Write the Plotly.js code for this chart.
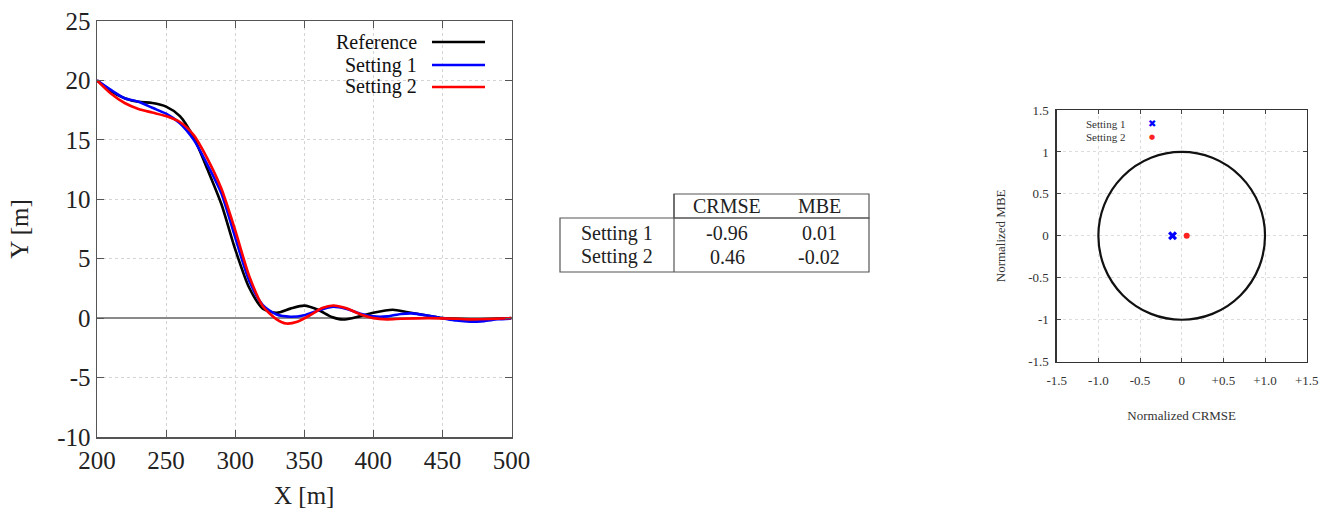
<!DOCTYPE html>
<html>
<head>
<meta charset="utf-8">
<script src="https://cdn.plot.ly/plotly-3.0.1.min.js"></script>
<style>html,body{margin:0;padding:0;background:#fff;}#chart{width:1330px;height:521px;}</style>
</head>
<body>
<div id="chart"></div>
<script>
// ---- Left chart: trajectories ----
const refX = [200,210,220,230,240,250,260,270,280,290,300,310,320,330,340,350,360,370,378,390,400,414,425,440,450,470,500];
const refY = [20.0,19.1,18.5,18.2,18.1,17.8,17.0,15.2,12.5,9.6,5.8,2.6,0.8,0.45,0.8,1.05,0.7,0.1,-0.12,0.15,0.45,0.7,0.5,0.2,0.0,-0.1,0.0];

const s1X = [200,210,220,230,240,250,260,270,280,290,300,310,320,330,340,350,360,370,380,390,400,410,420,428,440,450,460,470,480,490,500];
const s1Y = [20.0,19.2,18.5,18.2,17.7,17.2,16.4,15.0,12.9,10.5,6.8,3.2,1.1,0.3,0.12,0.25,0.65,0.95,0.8,0.4,0.15,0.15,0.35,0.4,0.2,0.0,-0.2,-0.3,-0.25,-0.1,-0.03];

const s2X = [200,210,220,230,240,250,260,270,280,290,300,310,320,330,337,345,355,363,371,380,390,400,410,420,440,460,470,500];
const s2Y = [20.0,18.9,18.1,17.6,17.3,17.0,16.5,15.4,13.4,10.9,7.4,3.6,1.0,-0.1,-0.45,-0.3,0.3,0.85,1.07,0.85,0.35,0.0,-0.1,-0.05,0.0,-0.05,-0.1,0.0];

const seriesNames = ['Reference','Setting 1','Setting 2'];
const seriesColors = ['#000000','#0000ff','#ff0000'];
const yTickVals = [-10,-5,0,5,10,15,20,25];
const yTickText = ['-10','-5','0','5','10','15','20','25'];

// ---- Middle table ----
const tableRows = ['Setting 1','Setting 2'];
const tableCols = ['CRMSE','MBE'];
const crmseVals = ['-0.96','0.46'];
const mbeVals = ['0.01','-0.02'];

// ---- Right chart: normalized errors ----
const normCRMSE = [-0.11, 0.06];
const normMBE = [0.0, 0.0];
const targetXTickVals = [-1.5,-1.0,-0.5,0,0.5,1.0,1.5];
const targetXTickText = ['-1.5','-1.0','-0.5','0','+0.5','+1.0','+1.5'];
const targetYTickVals = [-1.5,-1,-0.5,0,0.5,1,1.5];
const targetYTickText = ['-1.5','-1','-0.5','0','0.5','1','1.5'];

const W = 1330, H = 521;
const px = x => x / W;
const py = y => 1 - y / H;
const serif = 'Liberation Serif, DejaVu Serif, serif';

const traces = [
  {x: refX, y: refY, mode:'lines', line:{color:seriesColors[0], width:2.6, shape:'spline', smoothing:0.7}, xaxis:'x', yaxis:'y', showlegend:false},
  {x: s1X, y: s1Y, mode:'lines', line:{color:seriesColors[1], width:2.6, shape:'spline', smoothing:0.7}, xaxis:'x', yaxis:'y', showlegend:false},
  {x: s2X, y: s2Y, mode:'lines', line:{color:seriesColors[2], width:2.6, shape:'spline', smoothing:0.7}, xaxis:'x', yaxis:'y', showlegend:false},
  {x: [normCRMSE[0]], y: [normMBE[0]], mode:'markers', marker:{symbol:'x', size:8, color:'#0000ff'}, xaxis:'x2', yaxis:'y2', showlegend:false},
  {x: [normCRMSE[1]], y: [normMBE[1]], mode:'markers', marker:{symbol:'circle', size:6, color:'#ff2020'}, xaxis:'x2', yaxis:'y2', showlegend:false}
];

const shapes = [];
const annotations = [];

// left legend (gnuplot style: text then line sample)
const legRowsY = [42, 65, 87];
seriesNames.forEach((n, i) => {
  annotations.push({xref:'paper', yref:'paper', x:px(419), y:py(legRowsY[i]), xanchor:'right', yanchor:'middle',
    text:n, showarrow:false, font:{family:serif, size:20, color:'#111'}});
  shapes.push({type:'line', xref:'paper', yref:'paper', x0:px(432), x1:px(485), y0:py(legRowsY[i]), y1:py(legRowsY[i]),
    line:{color:seriesColors[i], width:2.6}});
});

// table
const tl = '#555';
shapes.push({type:'rect', xref:'paper', yref:'paper', x0:px(674), x1:px(869), y0:py(194), y1:py(218), line:{color:tl, width:1.2}});
shapes.push({type:'rect', xref:'paper', yref:'paper', x0:px(560), x1:px(869), y0:py(218), y1:py(272), line:{color:tl, width:1.2}});
shapes.push({type:'line', xref:'paper', yref:'paper', x0:px(674), x1:px(674), y0:py(194), y1:py(272), line:{color:tl, width:1.2}});
const colCenters = [727, 819];
const rowCenters = [233, 257];
const tFont = {family:serif, size:20, color:'#222'};
tableCols.forEach((c, j) => annotations.push({xref:'paper', yref:'paper', x:px(colCenters[j]), y:py(206), xanchor:'center', yanchor:'middle',
  text:c, showarrow:false, font:tFont}));
tableRows.forEach((r, i) => {
  annotations.push({xref:'paper', yref:'paper', x:px(617), y:py(rowCenters[i]), xanchor:'center', yanchor:'middle',
    text:r, showarrow:false, font:tFont});
  annotations.push({xref:'paper', yref:'paper', x:px(colCenters[0]), y:py(rowCenters[i]), xanchor:'center', yanchor:'middle',
    text:crmseVals[i], showarrow:false, font:tFont});
  annotations.push({xref:'paper', yref:'paper', x:px(colCenters[1]), y:py(rowCenters[i]), xanchor:'center', yanchor:'middle',
    text:mbeVals[i], showarrow:false, font:tFont});
});

// right chart unit circle
shapes.push({type:'circle', xref:'x2', yref:'y2', x0:-1, x1:1, y0:-1, y1:1, line:{color:'#111', width:2.2}});

// right legend (text then symbol)
const rLegY = [124, 137];
tableRows.forEach((r, i) => {
  annotations.push({xref:'paper', yref:'paper', x:px(1127), y:py(rLegY[i]), xanchor:'right', yanchor:'middle',
    text:r, showarrow:false, font:{family:serif, size:11, color:'#333'}});
});
annotations.push({xref:'paper', yref:'paper', x:px(1152), y:py(rLegY[0]), xanchor:'center', yanchor:'middle',
  text:'✖', showarrow:false, font:{family:'DejaVu Sans', size:10, color:'#0000ff'}});
annotations.push({xref:'paper', yref:'paper', x:px(1152), y:py(rLegY[1]), xanchor:'center', yanchor:'middle',
  text:'●', showarrow:false, font:{family:'DejaVu Sans', size:7, color:'#ff2020'}});

const layout = {
  width: W, height: H,
  margin:{l:0, r:0, t:0, b:0},
  paper_bgcolor:'#fff', plot_bgcolor:'#fff',
  showlegend:false,
  xaxis:{
    domain:[px(97), px(511.5)], range:[200,500], anchor:'y',
    tickvals:[200,250,300,350,400,450,500], ticks:'inside', ticklen:7, tickcolor:'#555',
    showline:true, linecolor:'#555', linewidth:1.5, mirror:'ticks',
    showgrid:true, gridcolor:'#d4d4d4', griddash:'dot', gridwidth:1, zeroline:false,
    tickfont:{family:serif, size:25, color:'#222'},
    title:{text:'X [m]', font:{family:serif, size:25, color:'#222'}, standoff:14}
  },
  yaxis:{
    domain:[py(437), py(21)], range:[-10,25], anchor:'x',
    tickvals:yTickVals, ticktext:yTickText, ticks:'inside', ticklen:7, tickcolor:'#555',
    showline:true, linecolor:'#555', linewidth:1.5, mirror:'ticks',
    showgrid:true, gridcolor:'#d4d4d4', griddash:'dot', gridwidth:1,
    zeroline:true, zerolinecolor:'#8a8a8a', zerolinewidth:1.6,
    tickfont:{family:serif, size:25, color:'#222'},
    title:{text:'Y [m]', font:{family:serif, size:25, color:'#222'}, standoff:21}
  },
  xaxis2:{
    domain:[px(1056.7), px(1306.7)], range:[-1.5,1.5], anchor:'y2',
    tickvals:targetXTickVals, ticktext:targetXTickText, ticks:'inside', ticklen:4, tickcolor:'#444',
    showline:true, linecolor:'#333', linewidth:1.3, mirror:'ticks',
    showgrid:true, gridcolor:'#dcdcdc', griddash:'dot', gridwidth:1, zeroline:false,
    ticklabelstandoff:6,
    tickfont:{family:serif, size:13, color:'#333'},
    title:{text:'Normalized CRMSE', font:{family:serif, size:13, color:'#333'}, standoff:24}
  },
  yaxis2:{
    domain:[py(361.7), py(110)], range:[-1.5,1.5], anchor:'x2',
    tickvals:targetYTickVals, ticktext:targetYTickText, ticks:'inside', ticklen:4, tickcolor:'#444',
    showline:true, linecolor:'#333', linewidth:1.3, mirror:'ticks',
    showgrid:true, gridcolor:'#dcdcdc', griddash:'dot', gridwidth:1, zeroline:false,
    ticklabelstandoff:4,
    tickfont:{family:serif, size:13, color:'#333'},
    title:{text:'Normalized MBE', font:{family:serif, size:13, color:'#333'}, standoff:19}
  },
  shapes: shapes,
  annotations: annotations
};

Plotly.newPlot('chart', traces, layout, {displayModeBar:false, staticPlot:true});
</script>
</body>
</html>
